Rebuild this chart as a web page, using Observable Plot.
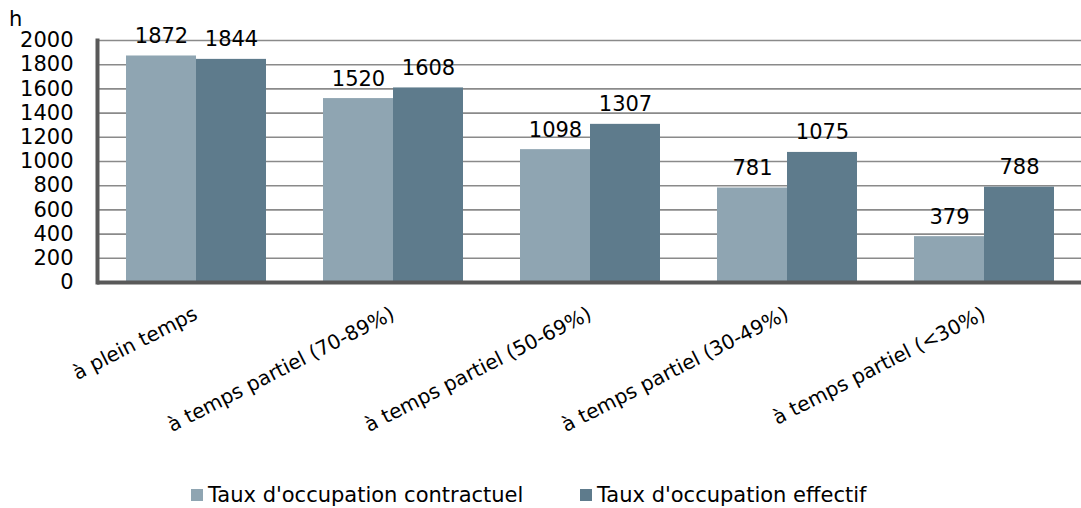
<!DOCTYPE html>
<html><head><meta charset="utf-8">
<script src="https://cdn.jsdelivr.net/npm/d3@7"></script>
<script src="https://cdn.jsdelivr.net/npm/@observablehq/plot@0.6"></script>
<style>
body{margin:0;background:#fff;font-family:"DejaVu Sans",sans-serif;}
#wrap{position:relative;width:1081px;height:508px;overflow:hidden;}
#unit{position:absolute;left:9px;top:7px;font-size:21px;line-height:24px;color:#000;}
#legend{position:absolute;top:482px;left:0;width:1081px;height:26px;font-size:21px;color:#000;}
.item{position:absolute;top:0;display:flex;align-items:center;height:26px;white-space:nowrap;}
.sw{width:12px;height:12px;margin-right:5px;flex:none;}
</style></head><body><div id="wrap"><div id="chart"></div><div id="unit"></div><div id="legend"></div></div>
<script>
const categories = ["à plein temps","à temps partiel (70-89%)","à temps partiel (50-69%)","à temps partiel (30-49%)","à temps partiel (<30%)"];
const series = ["Taux d'occupation contractuel","Taux d'occupation effectif"];
const contractuel = [1872,1520,1098,781,379];
const effectif = [1844,1608,1307,1075,788];
const yTicks = [0,200,400,600,800,1000,1200,1400,1600,1800,2000];
const yUnit = "h";
const colors = ["#8FA5B2","#5E7B8C"];
const legendLeft = [191,580];

const rows = [];
categories.forEach((c,i)=>{
  rows.push({cat:c, series:series[0], value:contractuel[i]});
  rows.push({cat:c, series:series[1], value:effectif[i]});
});

const chart = Plot.plot({
  width: 1081, height: 480,
  marginLeft: 95, marginRight: -3, marginTop: 40, marginBottom: 198,
  style: {fontFamily: "DejaVu Sans", fontSize: "21px", color: "#000", background: "transparent", overflow: "visible"},
  fx: {domain: categories, padding: 0, label: null},
  x: {domain: series, paddingInner: 0, paddingOuter: 0.39, axis: null},
  y: {domain: [0, 2000], axis: null},
  color: {domain: series, range: colors},
  marks: [
    Plot.ruleY(yTicks, {stroke: "#8a8a8a", strokeWidth: 1.6}),
    Plot.barY(rows, {fx: "cat", x: "series", y: "value", fill: "series"}),
    Plot.text(rows, {fx: "cat", x: "series", y: "value", text: d => String(d.value), lineAnchor: "bottom", dy: -13, fontSize: 21, fill: "#000"}),
    Plot.ruleY([0], {stroke: "#595959", strokeWidth: 4}),
    Plot.frame({anchor: "left", facetAnchor: "left", stroke: "#595959", strokeWidth: 4}),
    Plot.axisY(yTicks, {tickSize: 0, tickPadding: 24, fontSize: 21, tickFormat: "d", label: null}),
    Plot.axisFx({anchor: "bottom", tickRotate: -27, tickSize: 0, tickPadding: 30, fontSize: 20, label: null})
  ]
});
document.getElementById("chart").appendChild(chart);
document.getElementById("unit").textContent = yUnit;

const leg = document.getElementById("legend");
series.forEach((s,i)=>{
  const it = document.createElement("div");
  it.className = "item";
  it.style.left = legendLeft[i] + "px";
  const sw = document.createElement("span");
  sw.className = "sw"; sw.style.background = colors[i];
  const t = document.createElement("span");
  t.textContent = s;
  it.appendChild(sw); it.appendChild(t);
  leg.appendChild(it);
});
</script></body></html>
